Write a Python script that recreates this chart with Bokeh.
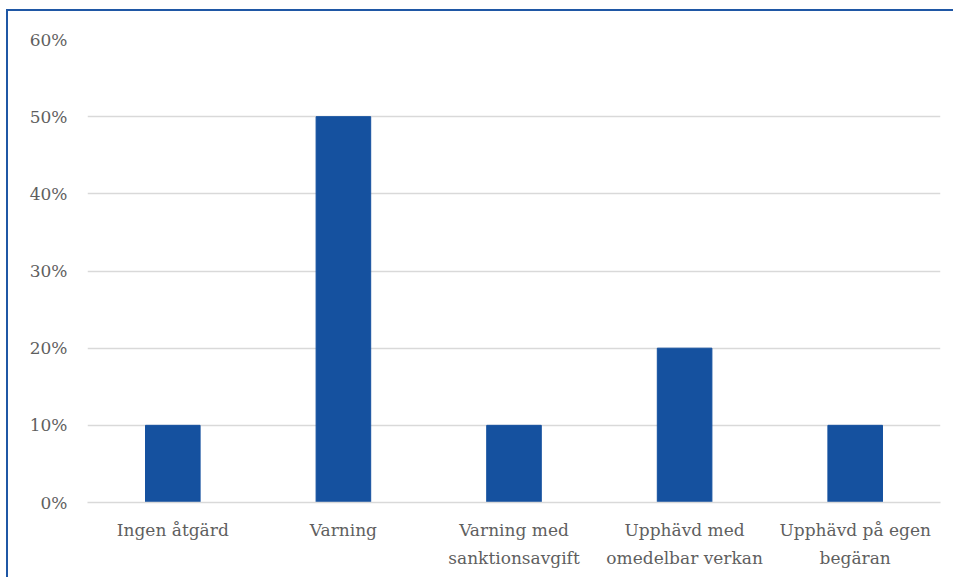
from bokeh.plotting import figure
from bokeh.models import ColumnDataSource, NumeralTickFormatter, FixedTicker
from bokeh.embed import file_html
from bokeh.resources import INLINE

categories = [
    "Ingen åtgärd",
    "Varning",
    "Varning med\nsanktionsavgift",
    "Upphävd med\nomedelbar verkan",
    "Upphävd på egen\nbegäran",
]
shares = [0.10, 0.50, 0.10, 0.20, 0.10]
y_ticks = [0.0, 0.1, 0.2, 0.3, 0.4, 0.5, 0.6]

BAR = "#15519f"
FRAME = "#1f57a5"
FONT = "DejaVu Serif"

source = ColumnDataSource(data=dict(cat=categories, share=shares))

p = figure(
    x_range=categories,
    y_range=(0, 0.6),
    width=947,
    height=568,
    output_backend="svg",
    toolbar_location=None,
    min_border_left=79,
    min_border_right=15,
    min_border_top=28,
    min_border_bottom=77,
)
p.styles = {
    "border-top": f"2px solid {FRAME}",
    "border-left": f"2px solid {FRAME}",
    "margin-left": "6px",
    "margin-top": "9px",
}

p.vbar(x="cat", top="share", width=0.32, source=source, color=BAR)

p.outline_line_color = None
p.xgrid.grid_line_color = None
p.ygrid.grid_line_color = "#d9d9d9"
p.ygrid.grid_line_width = 1.5
p.yaxis.ticker = FixedTicker(ticks=y_ticks)
p.yaxis.formatter = NumeralTickFormatter(format="0%")

for ax in (p.xaxis, p.yaxis):
    ax.axis_line_color = None
    ax.major_tick_line_color = None
    ax.minor_tick_line_color = None
    ax.major_label_text_font = FONT
    ax.major_label_text_font_size = "17px"
    ax.major_label_text_color = "#5f5f5f"

p.xaxis.axis_line_color = "#d9d9d9"
p.xaxis.axis_line_width = 1.5
p.xaxis.major_label_text_line_height = 1.4
p.yaxis.major_label_standoff = 14
p.xaxis.major_label_standoff = 11

open("out.html", "w").write(file_html(p, INLINE))
